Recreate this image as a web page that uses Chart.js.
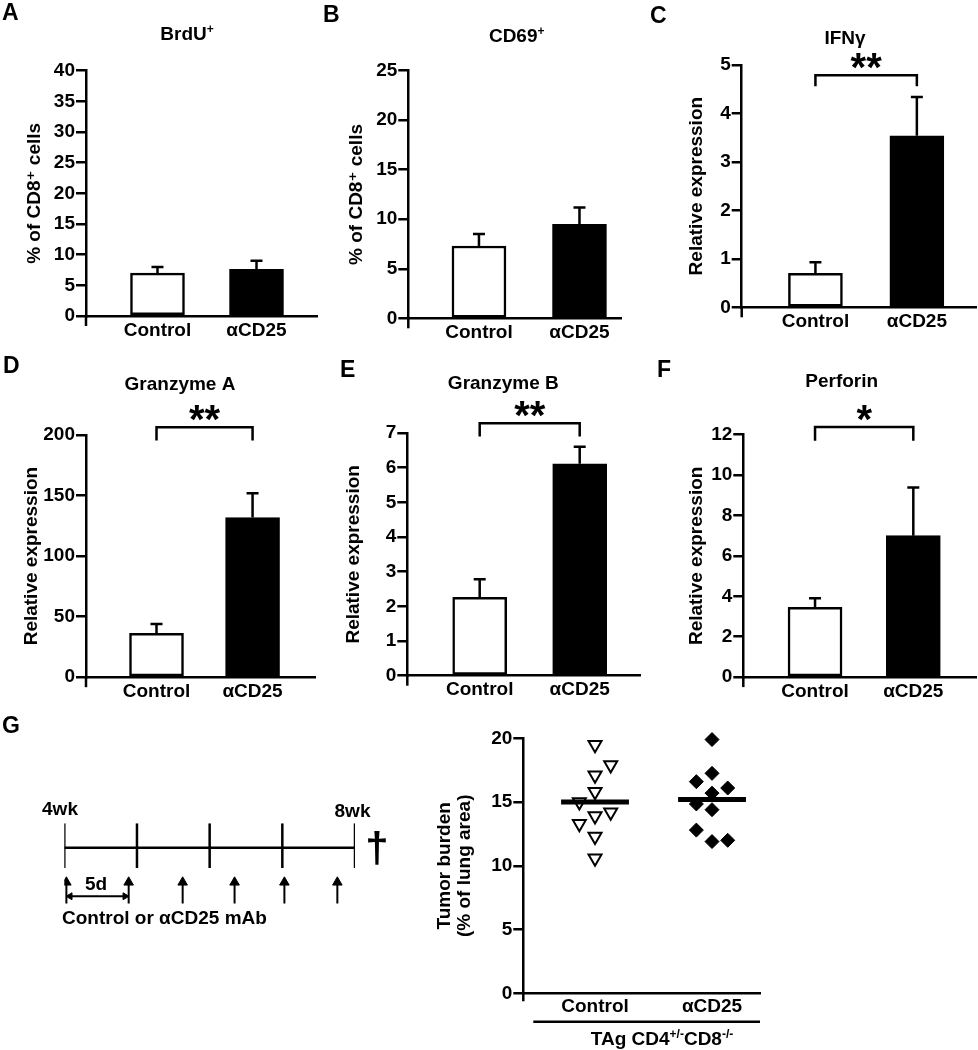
<!DOCTYPE html>
<html>
<head>
<meta charset="utf-8">
<script src="https://cdn.jsdelivr.net/npm/chart.js@4.4.1/dist/chart.umd.min.js"></script>
<style>
  body { margin: 0; background: #fff; }
  #fig { position: relative; width: 978px; height: 1050px; overflow: hidden; }
  #fig canvas { position: absolute; }
</style>
</head>
<body>
<div id="fig"></div>
<script>
// ---- data ----
const groups = ['Control', 'αCD25'];

const brduValues = [7.0, 7.6];
const brduErrors = [1.0, 1.4];
const cd69Values = [7.3, 9.5];
const cd69Errors = [1.2, 1.7];
const ifngValues = [0.70, 3.54];
const ifngErrors = [0.23, 0.80];
const gzmaValues = [36.3, 131.8];
const gzmaErrors = [7.7, 20.2];
const gzmbValues = [2.26, 6.11];
const gzmbErrors = [0.52, 0.49];
const perfValues = [3.45, 7.0];
const perfErrors = [0.45, 2.38];

// significance brackets (bar height of the bracket, bottom of its legs)
const ifngBracket = { top: 4.79, leg: 4.56, mark: '**' };
const gzmaBracket = { top: 206.5, leg: 195.4, mark: '**' };
const gzmbBracket = { top: 7.28, leg: 6.9, mark: '**' };
const perfBracket = { top: 12.37, leg: 11.7, mark: '*' };

// tumor burden (% of lung area); slot = column offset of the point inside its group
const tumorControl = [19.5, 17.9, 17.1, 15.8, 15.0, 14.2, 13.9, 13.3, 12.3, 10.6];
const tumorControlSlot = [0, 1, 0, 0, -1, 1, 0, -1, 0, 0];
const tumorAntiCD25 = [19.9, 17.25, 16.6, 16.1, 15.7, 14.85, 14.4, 12.8, 11.9, 12.0];
const tumorAntiCD25Slot = [0, 0, -1, 1, 0, -1, 0, -1, 0, 1];
const tumorMeans = [15.0, 15.2];

// treatment schedule, days after week 4
const weekDays = [0, 7, 14, 21, 28];
const injectionDays = [0.2, 6.2, 11.4, 16.4, 21.2, 26.3];

// ---- helpers ----
const BLACK = '#000';
const FONT = '"Liberation Sans", Arial, "DejaVu Sans", sans-serif';
const X_AXIS_H = 30;
const font = size => `bold ${size}px ${FONT}`;

Chart.defaults.font.family = FONT;
Chart.defaults.font.size = 19;
Chart.defaults.font.weight = 'bold';
Chart.defaults.color = BLACK;

function addCanvas(box) {
    const c = document.createElement('canvas');
    c.width = box.width;
    c.height = box.height;
    c.style.left = box.left + 'px';
    c.style.top = box.top + 'px';
    document.getElementById('fig').appendChild(c);
    return c;
}

// parts: [[text], [text, 1]] -> second entry marks a superscript
function drawRich(ctx, parts, x, y, size, align) {
    const supSize = Math.round(size * 0.62);
    let w = 0;
    parts.forEach(([t, sup]) => {
        ctx.font = font(sup ? supSize : size);
        w += ctx.measureText(t).width;
    });
    let cx = align === 'center' ? x - w / 2 : x;
    ctx.textAlign = 'left';
    ctx.textBaseline = 'alphabetic';
    parts.forEach(([t, sup]) => {
        ctx.font = font(sup ? supSize : size);
        ctx.fillText(t, cx, sup ? y - size * 0.38 : y);
        cx += ctx.measureText(t).width;
    });
}

// free text (panel letters, titles) placed in page coordinates
function textPlugin(box, items) {
    return {
        id: 'panelText',
        afterDraw(chart) {
            const ctx = chart.ctx;
            ctx.save();
            ctx.fillStyle = BLACK;
            items.forEach(it => drawRich(ctx, it.parts, it.x - box.left, it.y - box.top, it.size, it.align));
            ctx.restore();
        }
    };
}

// error bars, axis stub and significance bracket
function barDecor(values, errors, bracket) {
    return {
        id: 'barDecor',
        afterDatasetsDraw(chart) {
            const { ctx, chartArea, scales: { x, y } } = chart;
            ctx.save();
            ctx.strokeStyle = BLACK;
            ctx.lineWidth = 2.5;
            values.forEach((v, i) => {
                const px = x.getPixelForValue(i + 1);
                const yBar = y.getPixelForValue(v);
                const yErr = y.getPixelForValue(v + errors[i]);
                ctx.beginPath();
                ctx.moveTo(px, yBar);
                ctx.lineTo(px, yErr);
                ctx.moveTo(px - 6, yErr);
                ctx.lineTo(px + 6, yErr);
                ctx.stroke();
            });

            ctx.beginPath();
            ctx.moveTo(chartArea.left, chartArea.bottom);
            ctx.lineTo(chartArea.left, chartArea.bottom + 10);
            ctx.stroke();

            if (bracket) {
                const x1 = x.getPixelForValue(1);
                const x2 = x.getPixelForValue(2);
                const yTop = y.getPixelForValue(bracket.top);
                const yLeg = y.getPixelForValue(bracket.leg);
                ctx.beginPath();
                ctx.moveTo(x1, yLeg);
                ctx.lineTo(x1, yTop);
                ctx.lineTo(x2, yTop);
                ctx.lineTo(x2, yLeg);
                ctx.stroke();

                ctx.fillStyle = BLACK;
                ctx.font = font(40);
                ctx.textAlign = 'center';
                ctx.textBaseline = 'alphabetic';
                const m = ctx.measureText(bracket.mark);
                const cy = yTop - 14;
                const base = cy - (m.actualBoundingBoxDescent - m.actualBoundingBoxAscent) / 2;
                ctx.fillText(bracket.mark, (x1 + x2) / 2, base);
            }
            ctx.restore();
        }
    };
}

function barPanel(p) {
    const { box, geo } = p;
    const canvas = addCanvas(box);
    const lh = 19 * 1.2;
    const texts = [
        { parts: [[p.letter]], x: p.letterX, y: p.letterY, size: 23, align: 'left' },
        { parts: p.title, x: p.titleX, y: p.titleY + 7, size: 19, align: 'center' }
    ];
    return new Chart(canvas, {
        type: 'bar',
        data: {
            datasets: [{
                data: p.values.map((v, i) => ({ x: i + 1, y: v })),
                backgroundColor: ['#fff', BLACK],
                borderColor: BLACK,
                borderWidth: 2.5,
                borderSkipped: false,
                barThickness: 54
            }]
        },
        options: {
            responsive: false,
            animation: false,
            events: [],
            layout: {
                padding: {
                    left: 0,
                    top: geo.topY - box.top,
                    right: box.left + box.width - geo.rightX,
                    bottom: box.top + box.height - geo.zeroY - X_AXIS_H
                }
            },
            plugins: { legend: { display: false }, tooltip: { enabled: false } },
            scales: {
                x: {
                    type: 'linear',
                    offset: false,
                    min: geo.xMin,
                    max: geo.xMax,
                    grid: { display: false, drawTicks: false, offset: false },
                    border: { color: BLACK, width: 2.5 },
                    afterBuildTicks: s => { s.ticks = groups.map((g, i) => ({ value: i + 1 })); },
                    afterFit: s => { s.height = X_AXIS_H; },
                    ticks: { padding: 3, autoSkip: false, maxRotation: 0, callback: (v, i) => groups[i] }
                },
                y: {
                    min: 0,
                    max: p.yMax,
                    grid: { display: true, drawOnChartArea: false, drawTicks: true, tickLength: 10, color: BLACK, lineWidth: 2.5 },
                    border: { color: BLACK, width: 2.5 },
                    afterFit: s => { s.width = geo.axisX - box.left; },
                    ticks: { stepSize: p.yStep, padding: 1 },
                    title: {
                        display: true,
                        text: p.yTitle,
                        padding: { top: geo.yTitleX - box.left - lh / 2, bottom: 0 }
                    }
                }
            }
        },
        plugins: [barDecor(p.values, p.errors, p.bracket), textPlugin(box, texts)]
    });
}

// ---- panels A-F ----
const barPanels = [
    {
        box: { left: 0, top: 0, width: 330, height: 350 },
        geo: { axisX: 86, rightX: 317, topY: 70.7, zeroY: 316, yTitleX: 35, xMin: 0.278, xMax: 2.611 },
        letter: 'A', letterX: 2, letterY: 20,
        title: [['BrdU'], ['+', 1]], titleX: 187, titleY: 33,
        yTitle: '% of CD8⁺ cells', yMax: 40, yStep: 5,
        values: brduValues, errors: brduErrors, bracket: null
    },
    {
        box: { left: 320, top: 0, width: 320, height: 350 },
        geo: { axisX: 408.3, rightX: 621.7, topY: 70.7, zeroY: 318.3, yTitleX: 356.7, xMin: 0.297, xMax: 2.42 },
        letter: 'B', letterX: 323, letterY: 22,
        title: [['CD69'], ['+', 1]], titleX: 516.7, titleY: 35,
        yTitle: '% of CD8⁺ cells', yMax: 25, yStep: 5,
        values: cd69Values, errors: cd69Errors, bracket: null
    },
    {
        box: { left: 640, top: 0, width: 338, height: 350 },
        geo: { axisX: 741.7, rightX: 976.7, topY: 65, zeroY: 307.3, yTitleX: 696.7, xMin: 0.273, xMax: 2.59 },
        letter: 'C', letterX: 650, letterY: 23,
        title: [['IFNγ']], titleX: 845, titleY: 36.7,
        yTitle: 'Relative expression', yMax: 5, yStep: 1,
        values: ifngValues, errors: ifngErrors, bracket: ifngBracket
    },
    {
        box: { left: 0, top: 350, width: 330, height: 360 },
        geo: { axisX: 86, rightX: 315, topY: 435, zeroY: 677.2, yTitleX: 31.7, xMin: 0.266, xMax: 2.65 },
        letter: 'D', letterX: 3, letterY: 373,
        title: [['Granzyme A']], titleX: 180, titleY: 383.3,
        yTitle: 'Relative expression', yMax: 200, yStep: 50,
        values: gzmaValues, errors: gzmaErrors, bracket: gzmaBracket
    },
    {
        box: { left: 320, top: 350, width: 322, height: 360 },
        geo: { axisX: 407.3, rightX: 640.7, topY: 433, zeroY: 675.7, yTitleX: 353.3, xMin: 0.276, xMax: 2.61 },
        letter: 'E', letterX: 340, letterY: 377,
        title: [['Granzyme B']], titleX: 503.3, titleY: 381.7,
        yTitle: 'Relative expression', yMax: 7, yStep: 1,
        values: gzmbValues, errors: gzmbErrors, bracket: gzmbBracket
    },
    {
        box: { left: 640, top: 350, width: 338, height: 360 },
        geo: { axisX: 743.3, rightX: 976.7, topY: 434.6, zeroY: 677.1, yTitleX: 696.7, xMin: 0.27, xMax: 2.645 },
        letter: 'F', letterX: 657, letterY: 377,
        title: [['Perforin']], titleX: 841.7, titleY: 380,
        yTitle: 'Relative expression', yMax: 12, yStep: 2,
        values: perfValues, errors: perfErrors, bracket: perfBracket
    }
];
barPanels.forEach(barPanel);

// ---- panel G, tumor burden scatter ----
const JITTER = 0.134;
const MEAN_HALF = 0.29;
(function scatterPanel() {
    const box = { left: 420, top: 720, width: 358, height: 330 };
    const geo = { axisX: 523.3, rightX: 760, topY: 738.3, zeroY: 993.3 };
    const canvas = addCanvas(box);
    const toPoints = (vals, slots, g) => vals.map((v, i) => ({ x: g + slots[i] * JITTER, y: v }));
    const meanLine = g => [{ x: g + 1 - MEAN_HALF, y: tumorMeans[g] }, { x: g + 1 + MEAN_HALF, y: tumorMeans[g] }];

    const decor = {
        id: 'scatterDecor',
        afterDraw(chart) {
            const { ctx, chartArea } = chart;
            ctx.save();
            ctx.strokeStyle = BLACK;
            ctx.lineWidth = 2.5;
            ctx.beginPath();
            ctx.moveTo(chartArea.left, chartArea.bottom);
            ctx.lineTo(chartArea.left, chartArea.bottom + 8);
            ctx.moveTo(chartArea.left + 10, chartArea.bottom + 28.4);
            ctx.lineTo(chartArea.right, chartArea.bottom + 28.4);
            ctx.stroke();
            ctx.restore();
        }
    };
    const texts = [
        { parts: [['TAg CD4'], ['+/-', 1], ['CD8'], ['-/-', 1]], x: 662, y: 1045, size: 19, align: 'center' }
    ];

    new Chart(canvas, {
        type: 'scatter',
        data: {
            datasets: [
                { type: 'line', data: meanLine(0), borderColor: BLACK, borderWidth: 5, pointRadius: 0 },
                { type: 'line', data: meanLine(1), borderColor: BLACK, borderWidth: 5, pointRadius: 0 },
                {
                    data: toPoints(tumorControl, tumorControlSlot, 1),
                    clip: false,
                    pointStyle: 'triangle', pointRotation: 180, pointRadius: 7.5,
                    pointBackgroundColor: '#fff', pointBorderColor: BLACK, pointBorderWidth: 2
                },
                {
                    data: toPoints(tumorAntiCD25, tumorAntiCD25Slot, 2),
                    clip: false,
                    pointStyle: 'rectRot', pointRadius: 7,
                    pointBackgroundColor: BLACK, pointBorderColor: BLACK, pointBorderWidth: 1
                }
            ]
        },
        options: {
            responsive: false,
            animation: false,
            events: [],
            layout: {
                padding: {
                    left: 0,
                    top: geo.topY - box.top,
                    right: box.left + box.width - geo.rightX,
                    bottom: box.top + box.height - geo.zeroY - X_AXIS_H
                }
            },
            plugins: { legend: { display: false }, tooltip: { enabled: false } },
            scales: {
                x: {
                    type: 'linear',
                    offset: false,
                    min: 0.387,
                    max: 2.41,
                    grid: { display: false, drawTicks: false },
                    border: { color: BLACK, width: 2.5 },
                    afterBuildTicks: s => { s.ticks = groups.map((g, i) => ({ value: i + 1 })); },
                    afterFit: s => { s.height = X_AXIS_H; },
                    ticks: { padding: 2, autoSkip: false, maxRotation: 0, callback: (v, i) => groups[i] }
                },
                y: {
                    min: 0,
                    max: 20,
                    grid: { display: true, drawOnChartArea: false, drawTicks: true, tickLength: 10, color: BLACK, lineWidth: 2.5 },
                    border: { color: BLACK, width: 2.5 },
                    afterFit: s => { s.width = geo.axisX - box.left; },
                    ticks: { stepSize: 5, padding: 1 },
                    title: {
                        display: true,
                        text: ['Tumor burden', '(% of lung area)'],
                        font: { size: 19, weight: 'bold', lineHeight: 1.05 },
                        padding: { top: 15, bottom: 0 }
                    }
                }
            }
        },
        plugins: [decor, textPlugin(box, texts)]
    });
})();

// ---- panel G, treatment timeline ----
(function timelinePanel() {
    const box = { left: 0, top: 700, width: 420, height: 240 };
    const canvas = addCanvas(box);
    const lastDay = weekDays[weekDays.length - 1];
    const segments = (days, y0, y1) => days.flatMap(d => [{ x: d, y: y0 }, { x: d, y: y1 }, { x: d, y: null }]);

    const texts = [
        { parts: [['G']], x: 2, y: 733, size: 23, align: 'left' },
        { parts: [['4wk']], x: 60, y: 815, size: 19, align: 'center' },
        { parts: [['8wk']], x: 352.5, y: 817, size: 19, align: 'center' },
        { parts: [['5d']], x: 96, y: 890, size: 19, align: 'center' },
        { parts: [['Control or αCD25 mAb']], x: 62, y: 924, size: 19, align: 'left' },
        { parts: [['†']], x: 377, y: 862, size: 42, align: 'center' }
    ];

    new Chart(canvas, {
        type: 'scatter',
        data: {
            datasets: [
                { data: [{ x: weekDays[0], y: 0 }, { x: lastDay, y: 0 }], showLine: true, borderColor: BLACK, borderWidth: 2.5, pointRadius: 0 },
                { data: segments(weekDays, 1, -0.83), showLine: true, spanGaps: false, borderColor: BLACK, borderWidth: 2.5, pointRadius: 0 },
                { data: segments(injectionDays, -1.3, -2.27), showLine: true, spanGaps: false, borderColor: BLACK, borderWidth: 2, pointRadius: 0 },
                {
                    data: injectionDays.map(d => ({ x: d, y: -1.41 })),
                    pointStyle: 'triangle', pointRadius: 5.5,
                    pointBackgroundColor: BLACK, pointBorderColor: BLACK, pointBorderWidth: 1
                },
                {
                    data: [{ x: injectionDays[0] + 0.35, y: -1.98 }, { x: injectionDays[1] - 0.35, y: -1.98 }],
                    showLine: true, borderColor: BLACK, borderWidth: 2,
                    pointStyle: 'triangle', pointRotation: [270, 90], pointRadius: 4,
                    pointBackgroundColor: BLACK, pointBorderColor: BLACK, pointBorderWidth: 1
                }
            ]
        },
        options: {
            responsive: false,
            animation: false,
            events: [],
            layout: { padding: { left: 64.3, right: box.width - 355, top: 123.3, bottom: 4.2 } },
            plugins: { legend: { display: false }, tooltip: { enabled: false } },
            scales: {
                x: { type: 'linear', min: 0, max: lastDay, display: false },
                y: { min: -3.5, max: 1, display: false }
            }
        },
        plugins: [textPlugin(box, texts)]
    });
})();
</script>
</body>
</html>
